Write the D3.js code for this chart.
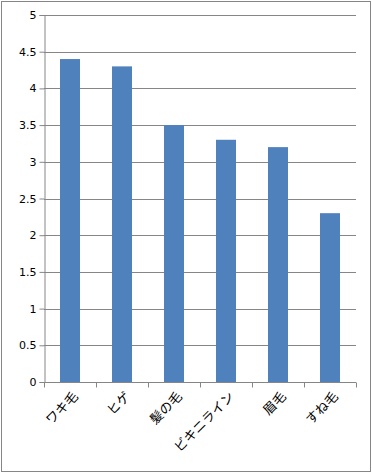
<!DOCTYPE html>
<html>
<head>
<meta charset="utf-8">
<script src="https://cdn.jsdelivr.net/npm/d3@7"></script>
<style>
  body { margin: 0; background: #fff; }
  svg text { font-family: "Noto Sans CJK JP", "DejaVu Sans", sans-serif; font-size: 13px; fill: #000; }
</style>
</head>
<body>
<div id="chart"></div>
<script>
// data
var categories = ["ワキ毛", "ヒゲ", "髪の毛", "ビキニライン", "眉毛", "すね毛"];
var values = [4.4, 4.3, 3.5, 3.3, 3.2, 2.3];
var yTicks = [0, 0.5, 1, 1.5, 2, 2.5, 3, 3.5, 4, 4.5, 5];

var W = 372, H = 473;
var margin = {top: 15, right: 16, bottom: 91, left: 44};
var width = W - margin.left - margin.right;
var height = H - margin.top - margin.bottom;

var svg = d3.select("#chart").append("svg")
    .attr("width", W)
    .attr("height", H);

// outer frame
svg.append("rect")
    .attr("x", 1.5).attr("y", 1.5)
    .attr("width", W - 3).attr("height", H - 3)
    .attr("fill", "#fff")
    .attr("stroke", "#868686");

var g = svg.append("g")
    .attr("transform", "translate(" + margin.left + "," + margin.top + ")");

var x = d3.scaleBand()
    .domain(categories)
    .range([0, width]);

var y = d3.scaleLinear()
    .domain([0, 5])
    .range([height, 0]);

// gridlines
g.selectAll(".grid")
    .data(yTicks.slice(1))
    .enter().append("line")
    .attr("class", "grid")
    .attr("x1", 0).attr("x2", width)
    .attr("y1", function(d) { return Math.round(y(d)) + 0.5; })
    .attr("y2", function(d) { return Math.round(y(d)) + 0.5; })
    .attr("stroke", "#868686");

// bars
g.selectAll(".bar")
    .data(values)
    .enter().append("rect")
    .attr("class", "bar")
    .attr("x", function(d, i) { return x(categories[i]) + x.bandwidth() / 2 - 10; })
    .attr("width", 20)
    .attr("y", function(d) { return y(d); })
    .attr("height", function(d) { return height - y(d); })
    .attr("fill", "#4F81BD");

// y axis
var yAxis = g.append("g")
    .attr("transform", "translate(0.5,0)")
    .call(d3.axisLeft(y).tickValues(yTicks).tickSize(5).tickPadding(3).tickFormat(d3.format("")));
yAxis.selectAll("path, line").attr("stroke", "#868686");
yAxis.selectAll("text").style("font-family", "\"DejaVu Sans\", sans-serif").style("font-size", "11px");

// x axis with ticks at band edges
var xAxis = g.append("g")
    .attr("transform", "translate(0," + (Math.round(height) + 0.5) + ")");
xAxis.append("line")
    .attr("x1", 0).attr("x2", width)
    .attr("stroke", "#868686");
xAxis.selectAll(".tick")
    .data(categories.concat([null]))
    .enter().append("line")
    .attr("x1", function(d, i) { return Math.round(i * x.step()) + 0.5; })
    .attr("x2", function(d, i) { return Math.round(i * x.step()) + 0.5; })
    .attr("y1", 0).attr("y2", 5)
    .attr("stroke", "#868686");

xAxis.selectAll(".lbl")
    .data(categories)
    .enter().append("text")
    .attr("class", "lbl")
    .attr("text-anchor", "end")
    .attr("transform", function(d) {
        return "translate(" + (x(d) + x.bandwidth() / 2 + 2) + ",8) rotate(-45)";
    })
    .attr("dy", "0.75em")
    .text(function(d) { return d; });
</script>
</body>
</html>
